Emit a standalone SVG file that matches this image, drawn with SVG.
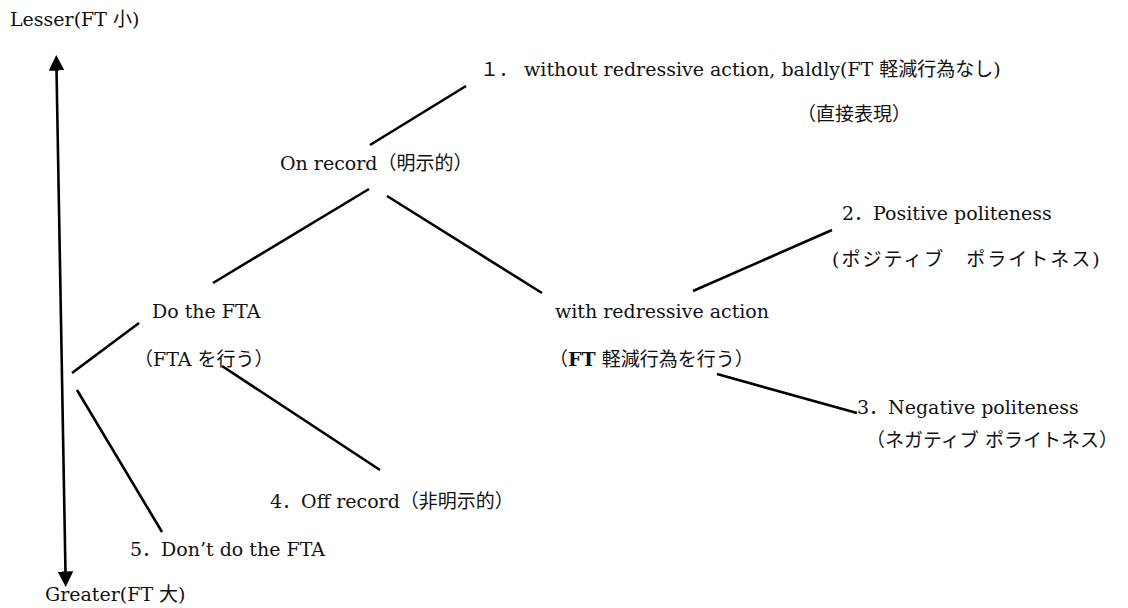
<svg xmlns="http://www.w3.org/2000/svg" width="1128" height="608" viewBox="0 0 1128 608">
  <style>
    text { font-family: "DejaVu Serif", "Noto Sans CJK JP", serif; font-size: 19px; fill: #111; }
    .b { font-weight: bold; }
    .kana { letter-spacing: 2px; }
    .edge { stroke: #000; stroke-width: 2.6; fill: none; stroke-linecap: butt; }
  </style>
  <defs>
    <marker id="head" viewBox="0 0 10 10" refX="1" refY="5" markerWidth="6" markerHeight="6" markerUnits="strokeWidth" orient="auto-start-reverse">
      <path d="M0,0 L10,5 L0,10 Z" fill="#000"/>
    </marker>
  </defs>
  <rect width="1128" height="608" fill="#fff"/>

  <!-- FT scale axis -->
  <g id="axis">
    <line class="edge" x1="56.5" y1="69" x2="65.5" y2="573" marker-start="url(#head)" marker-end="url(#head)"/>
    <text x="10" y="26">Lesser(FT 小)</text>
    <text x="45" y="601">Greater(FT 大)</text>
  </g>

  <!-- tree connectors -->
  <g id="connectors">
    <line class="edge" x1="370" y1="145" x2="466" y2="86"/>
    <line class="edge" x1="213" y1="283" x2="369" y2="189"/>
    <line class="edge" x1="387" y1="196" x2="542" y2="293"/>
    <line class="edge" x1="693" y1="291" x2="832" y2="230"/>
    <line class="edge" x1="72" y1="373" x2="139" y2="323"/>
    <line class="edge" x1="222" y1="366" x2="380" y2="470"/>
    <line class="edge" x1="77" y1="390" x2="162" y2="532"/>
    <line class="edge" x1="717" y1="374" x2="857" y2="413"/>
  </g>

  <g id="bald">
    <text x="480" y="76">１． without redressive action, baldly(FT 軽減行為なし)</text>
    <text x="797" y="121">（直接表現）</text>
  </g>

  <g id="on-record">
    <text x="280" y="170">On record（明示的）</text>
  </g>

  <g id="positive">
    <text x="842" y="220">2．Positive politeness</text>
    <text class="kana" x="832" y="266">(ポジティブ　ポライトネス)</text>
  </g>

  <g id="do-fta">
    <text x="152" y="318">Do the FTA</text>
    <text x="134" y="366">（FTA を行う）</text>
  </g>

  <g id="redressive">
    <text x="555" y="318">with redressive action</text>
    <text x="549" y="366">（<tspan class="b">FT</tspan> 軽減行為を行う）</text>
  </g>

  <g id="negative">
    <text x="857" y="414">3．Negative politeness</text>
    <text x="866" y="447">（ネガティブ ポライトネス）</text>
  </g>

  <g id="off-record">
    <text x="270" y="508">4．Off record（非明示的）</text>
  </g>

  <g id="dont-do">
    <text x="130" y="556">5．Don’t do the FTA</text>
  </g>
</svg>
